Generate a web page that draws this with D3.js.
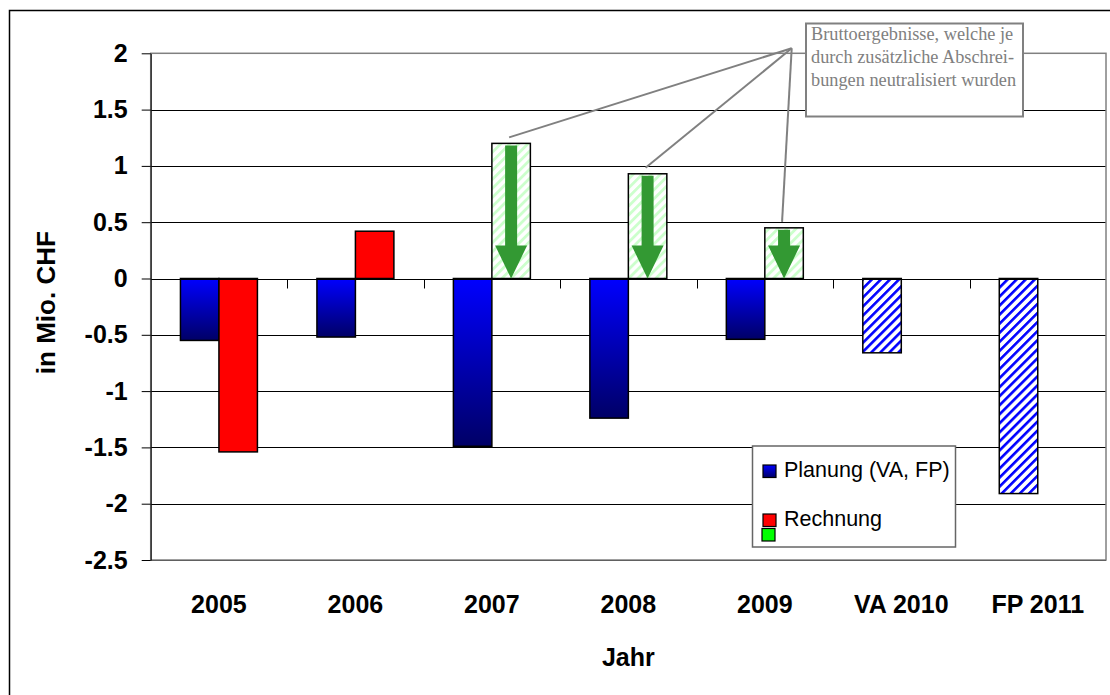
<!DOCTYPE html>
<html>
<head>
<meta charset="utf-8">
<script src="https://d3js.org/d3.v7.min.js"></script>
<style>
  body { margin: 0; background: #fff; }
  text { font-family: "Liberation Sans", Arial, sans-serif; }
</style>
</head>
<body>
<svg width="1110" height="695"></svg>
<script>
// Daten
var kategorien = ["2005", "2006", "2007", "2008", "2009", "VA 2010", "FP 2011"];
var planung = [-0.55, -0.52, -1.49, -1.24, -0.54, -0.66, -1.91];
var rechnung = [-1.54, 0.42, 1.20, 0.93, 0.45, null, null];
var neutralisiert = [false, false, true, true, true, false, false];
var yTicks = [2, 1.5, 1, 0.5, 0, -0.5, -1, -1.5, -2, -2.5];
var legende = ["Planung (VA, FP)", "Rechnung"];
var hinweis = ["Bruttoergebnisse, welche je", "durch zusätzliche Abschrei-", "bungen neutralisiert wurden"];

var svg = d3.select("svg"),
    pL = 150.7, pR = 1106, pT = 53.3, pB = 560;

svg.append("rect").attr("width", 1110).attr("height", 695).attr("fill", "#fff");
// Rahmen (rechts/unten abgeschnitten)
svg.append("rect")
   .attr("x", 9.5).attr("y", 10.5).attr("width", 1130).attr("height", 720)
   .attr("fill", "none").attr("stroke", "#000").attr("stroke-width", 1.5);

var y = d3.scaleLinear().domain([-2.5, 2]).range([pB, pT]);
var x0 = d3.scaleBand().domain(kategorien).range([pL, pR])
           .paddingInner(0.436).paddingOuter(0.218);
var x1 = d3.scaleBand().domain(["plan", "rech"]).range([0, x0.bandwidth()]);

var defs = svg.append("defs");
var grad = defs.append("linearGradient").attr("id", "blau")
   .attr("x1", 0).attr("y1", 0).attr("x2", 0).attr("y2", 1);
grad.append("stop").attr("offset", "0%").attr("stop-color", "#0000ff");
grad.append("stop").attr("offset", "100%").attr("stop-color", "#000066");

function schraffur(id, farbe, breite) {
    var p = defs.append("pattern").attr("id", id)
        .attr("patternUnits", "userSpaceOnUse")
        .attr("width", 6.4).attr("height", 6.4)
        .attr("patternTransform", "rotate(45)");
    p.append("rect").attr("width", 6.4).attr("height", 6.4).attr("fill", "#fff");
    p.append("rect").attr("width", breite).attr("height", 6.4).attr("fill", farbe);
}
schraffur("blauSchraff", "#0000ff", 2.6);
schraffur("gruenSchraff", "#ccffcc", 2.8);

// Gitternetz
svg.append("g").selectAll("line").data(yTicks).enter().append("line")
   .attr("x1", pL).attr("x2", pR)
   .attr("y1", function(d) { return Math.round(y(d)) + 0.5; })
   .attr("y2", function(d) { return Math.round(y(d)) + 0.5; })
   .attr("stroke", "#000").attr("stroke-width", 1);

// Balken
var balken = [];
kategorien.forEach(function(k, i) {
    balken.push({k: k, i: i, s: "plan", v: planung[i]});
    if (rechnung[i] !== null) balken.push({k: k, i: i, s: "rech", v: rechnung[i]});
});

svg.append("g").selectAll("rect").data(balken).enter().append("rect")
   .attr("x", function(d) { return x0(d.k) + x1(d.s); })
   .attr("y", function(d) { return y(Math.max(0, d.v)); })
   .attr("width", x1.bandwidth())
   .attr("height", function(d) { return Math.abs(y(d.v) - y(0)); })
   .attr("fill", function(d) {
       if (d.s === "plan") return rechnung[d.i] === null ? "url(#blauSchraff)" : "url(#blau)";
       return neutralisiert[d.i] ? "url(#gruenSchraff)" : "#ff0000";
   })
   .attr("stroke", "#000").attr("stroke-width", 1.5);

// Pfeile
var pfeile = balken.filter(function(d) { return d.s === "rech" && neutralisiert[d.i]; });
svg.append("g").selectAll("path").data(pfeile).enter().append("path")
   .attr("d", function(d) {
       var cx = x0(d.k) + x1("rech") + x1.bandwidth() / 2,
           t = y(d.v) + 2, tip = y(0), h = tip - 33;
       return "M" + (cx - 6) + "," + t + "L" + (cx + 6) + "," + t + "L" + (cx + 6) + "," + h +
              "L" + (cx + 16) + "," + h + "L" + cx + "," + tip + "L" + (cx - 16) + "," + h +
              "L" + (cx - 6) + "," + h + "Z";
   })
   .attr("fill", "#339933");

// Nulllinie mit Teilstrichen
var y0 = Math.round(y(0)) + 0.5;
svg.append("line").attr("x1", pL).attr("x2", pR).attr("y1", y0).attr("y2", y0)
   .attr("stroke", "#000").attr("stroke-width", 1);
var grenzen = kategorien.slice(1).map(function(k, i) {
    return Math.round((x0(kategorien[i]) + x0.bandwidth() + x0(k)) / 2) + 0.5;
});
svg.append("g").selectAll("line").data(grenzen).enter().append("line")
   .attr("x1", function(d) { return d; }).attr("x2", function(d) { return d; })
   .attr("y1", y0).attr("y2", y0 + 9)
   .attr("stroke", "#000").attr("stroke-width", 1);

// Zeichnungsfläche
svg.append("rect").attr("x", pL).attr("y", pT).attr("width", pR - pL).attr("height", pB - pT)
   .attr("fill", "none").attr("stroke", "#808080").attr("stroke-width", 1.5);

// Y-Achse
var yAxis = svg.append("g").attr("transform", "translate(" + pL + ",0)")
   .call(d3.axisLeft(y).tickValues(yTicks).tickSize(9).tickSizeOuter(0).tickPadding(14)
         .tickFormat(function(d) { return String(d); }));
yAxis.selectAll("text").attr("font-size", "25px").attr("font-weight", "bold").attr("fill", "#000");
yAxis.selectAll("line, path").attr("stroke", "#000");

// X-Beschriftung
var xAxis = svg.append("g").attr("transform", "translate(0," + pB + ")")
   .call(d3.axisBottom(x0).tickSize(0).tickPadding(35));
xAxis.select(".domain").remove();
xAxis.selectAll("text").attr("font-size", "25px").attr("font-weight", "bold").attr("fill", "#000");

svg.append("text").attr("x", (pL + pR) / 2).attr("y", 666)
   .attr("text-anchor", "middle").attr("font-size", "25px").attr("font-weight", "bold")
   .text("Jahr");
svg.append("text")
   .attr("transform", "translate(55," + ((pT + pB) / 2 - 4) + ") rotate(-90)")
   .attr("text-anchor", "middle").attr("font-size", "26px").attr("font-weight", "bold")
   .text("in Mio. CHF");

// Hinweis mit Linien
var anker = [791.7, 48.3];
svg.append("g").selectAll("line").data(pfeile).enter().append("line")
   .attr("x1", anker[0]).attr("y1", anker[1])
   .attr("x2", function(d) { return x0(d.k) + x1("rech") + x1.bandwidth() / 2 - 2; })
   .attr("y2", function(d) { return y(d.v) - 6; })
   .attr("stroke", "#808080").attr("stroke-width", 2);
svg.append("rect").attr("x", 806).attr("y", 23.5).attr("width", 217).attr("height", 93)
   .attr("fill", "#fff").attr("stroke", "#808080").attr("stroke-width", 2);
svg.append("g").selectAll("text").data(hinweis).enter().append("text")
   .attr("x", 811).attr("y", function(d, i) { return 40 + i * 23; })
   .style("font-family", "'Liberation Serif', 'Times New Roman', serif")
   .attr("font-size", "18.3px").attr("fill", "#808080")
   .text(function(d) { return d; });

// Legende
var leg = svg.append("g");
leg.append("rect").attr("x", 752.5).attr("y", 446).attr("width", 203).attr("height", 101)
   .attr("fill", "#fff").attr("stroke", "#666").attr("stroke-width", 1.5);
var legFarben = ["url(#blau)", "#ff0000"];
legende.forEach(function(t, i) {
    var yy = 465 + i * 49;
    leg.append("rect").attr("x", 763).attr("y", yy).attr("width", 13).attr("height", 12.5)
       .attr("fill", legFarben[i]).attr("stroke", "#000").attr("stroke-width", 1.2);
    leg.append("text").attr("x", 784).attr("y", yy + 12).attr("font-size", "21.5px")
       .attr("fill", "#000").text(t);
});
leg.append("rect").attr("x", 762).attr("y", 528.5).attr("width", 13).attr("height", 12.5)
   .attr("fill", "#00ff00").attr("stroke", "#000").attr("stroke-width", 1.2);
</script>
</body>
</html>
